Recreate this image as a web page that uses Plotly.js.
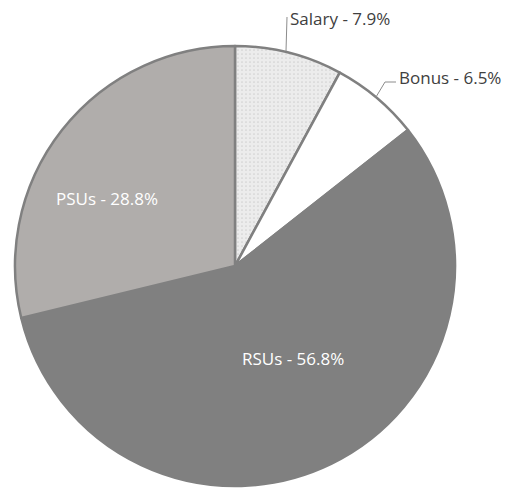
<!DOCTYPE html>
<html><head><meta charset="utf-8">
<script src="https://cdn.plot.ly/plotly-3.0.1.min.js"></script>
<style>html,body{margin:0;padding:0;background:#fff;}#chart{width:520px;height:489px;}</style>
</head><body><div id="chart"></div>
<script>
const categories = ["Salary", "Bonus", "RSUs", "PSUs"];
const values = [7.9, 6.5, 56.8, 28.8];
const sliceColors = ["#e9e9e9", "#ffffff", "#808080", "#b0adab"];

const W = 520, H = 489;
const px = x => x / W;
const py = y => 1 - y / H;

const labels = categories.map((c, i) => c + " - " + values[i].toFixed(1) + "%");
const labelPos = [[288, 18, "left", "#404040"], [397, 78, "left", "#404040"], [293, 358, "center", "#ffffff"], [107, 198, "center", "#ffffff"]];

const annotations = labels.map((t, i) => ({
  text: t, xref: "paper", yref: "paper",
  x: px(labelPos[i][0]), y: py(labelPos[i][1]),
  xanchor: labelPos[i][2], yanchor: "middle", showarrow: false,
  font: {family: "Open Sans, sans-serif", size: 17, color: labelPos[i][3]}
}));

const lineStyle = {color: "#8c8c8c", width: 1};
const shapes = [
  {type: "path", xref: "paper", yref: "paper", line: lineStyle,
   path: `M ${px(286)} ${py(51)} L ${px(287)} ${py(17)}`},
  {type: "path", xref: "paper", yref: "paper", line: lineStyle,
   path: `M ${px(376)} ${py(97)} L ${px(385)} ${py(82)} L ${px(396)} ${py(82)}`}
];

const trace = {
  type: "pie", labels: categories, values: values,
  sort: false, direction: "clockwise", rotation: 0,
  textinfo: "none", hoverinfo: "label+percent",
  marker: {
    colors: sliceColors,
    line: {color: "#808080", width: 2.5},
    pattern: {shape: [".", "", "", ""], fgcolor: "#d2d2d2", bgcolor: "#ececec", size: 4, solidity: 0.15}
  },
  domain: {x: [px(15), px(455)], y: [py(486), py(46)]},
  showlegend: false
};

Plotly.newPlot("chart", [trace], {
  width: W, height: H, margin: {l: 0, r: 0, t: 0, b: 0},
  paper_bgcolor: "#ffffff", showlegend: false,
  annotations: annotations, shapes: shapes
}, {displayModeBar: false, staticPlot: true});
</script></body></html>
